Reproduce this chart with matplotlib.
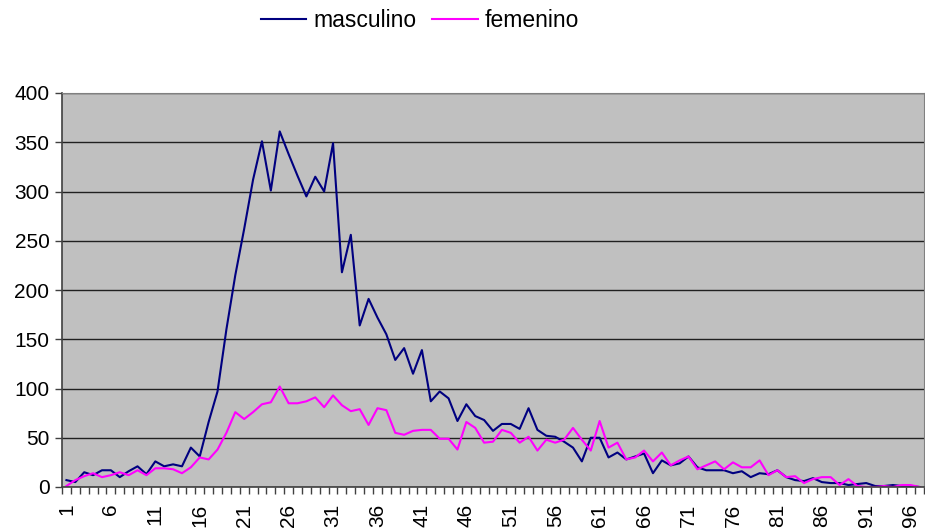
import numpy as np
import matplotlib
matplotlib.use("Agg")
import matplotlib.pyplot as plt

plt.rcParams['font.family'] = ['Liberation Sans', 'DejaVu Sans']

# edades 1..97
edades = list(range(1, 98))
masculino = [7, 5, 15, 12, 17, 17, 10, 16, 21, 13,
             26, 21, 23, 21, 40, 31, 66, 97, 160, 215,
             262, 312, 351, 301, 361, 338, 316, 295, 315, 300,
             349, 218, 256, 164, 191, 172, 155, 129, 141, 115,
             139, 87, 97, 90, 67, 84, 72, 68, 57, 64,
             64, 59, 80, 58, 52, 51, 46, 40, 26, 50,
             50, 30, 35, 28, 31, 34, 14, 27, 22, 24,
             31, 20, 17, 17, 17, 14, 16, 10, 14, 13,
             17, 10, 7, 6, 9, 5, 4, 4, 2, 3,
             4, 1, 1, 2, 1, 1, 0]
femenino = [1, 7, 11, 14, 10, 12, 15, 12, 17, 12,
            19, 19, 18, 14, 20, 30, 28, 38, 55, 76,
            69, 76, 84, 86, 102, 85, 85, 87, 91, 81,
            93, 83, 77, 79, 63, 80, 78, 55, 53, 57,
            58, 58, 49, 49, 38, 66, 60, 45, 46, 58,
            55, 45, 51, 37, 48, 45, 48, 60, 48, 37,
            67, 40, 45, 28, 30, 37, 26, 35, 22, 27,
            31, 18, 22, 26, 18, 25, 20, 20, 27, 12,
            17, 10, 11, 4, 8, 10, 10, 2, 8, 1,
            0, 0, 1, 0, 2, 2, 0]
ticks_lbl = list(range(1, 98, 5))

fig = plt.figure(figsize=(9.25, 5.29), dpi=100)
ax = fig.add_axes([62/925, 1-487/529, (924-62)/925, (487-93)/529])
ax.set_facecolor('#C0C0C0')

l1, = ax.plot(edades, masculino, color='#000080', lw=1.5, label='masculino')
l2, = ax.plot(edades, femenino, color='#FF00FF', lw=1.5, label='femenino')

ax.set_xlim(0.5, len(edades) + 0.5)
ax.set_ylim(0, 400)
ax.set_yticks(np.arange(0, 401, 50))
ax.yaxis.grid(True, color='#202020', lw=1)
ax.set_axisbelow(True)

# ticks between categories, labels every 5
ax.set_xticks(np.arange(0.5, len(edades) + 1, 1), minor=False)
ax.set_xticklabels([])
ax.set_xticks(ticks_lbl, minor=True)
ax.set_xticklabels([str(t) for t in ticks_lbl], minor=True, rotation=90, fontsize=15)
ax.tick_params(axis='x', which='major', direction='out', length=5, width=1, color='#404040')
ax.tick_params(axis='x', which='minor', length=0, pad=12)
ax.tick_params(axis='y', direction='out', length=5, width=1, color='#404040', labelsize=15, pad=4)

for s in ['left', 'bottom']:
    ax.spines[s].set_color('#404040')
    ax.spines[s].set_linewidth(1.2)
for s in ['top', 'right']:
    ax.spines[s].set_color('#808080')

fig.legend(handles=[l1, l2], loc='center', bbox_to_anchor=(420/925, 1-21/529),
           ncol=2, frameon=False, fontsize=16.5, handlelength=2.0,
           handletextpad=0.3, columnspacing=0.7)

fig.savefig('out.png', dpi=100)
